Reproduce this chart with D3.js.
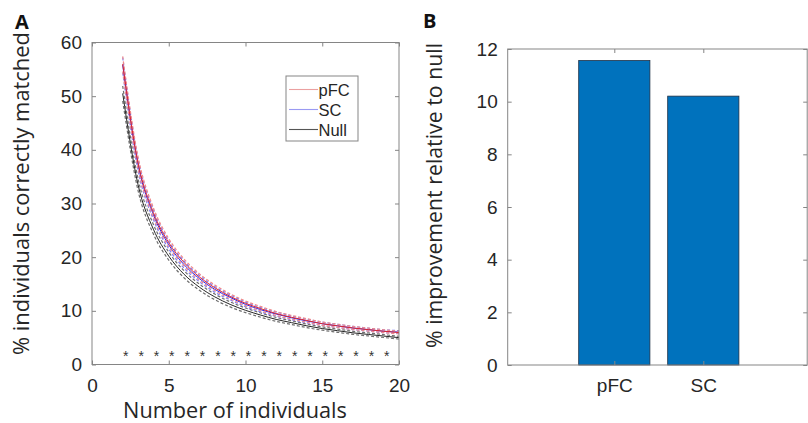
<!DOCTYPE html>
<html>
<head>
<meta charset="utf-8">
<script src="https://cdn.jsdelivr.net/npm/d3@7"></script>
<style>
  html, body { margin: 0; padding: 0; background: #fff; }
  svg { display: block; }
</style>
</head>
<body>
<svg id="chart" width="808" height="423"></svg>
<script>
// ---------- DATA ----------
const nIndividuals = [2,3,4,5,6,7,8,9,10,11,12,13,14,15,16,17,18,19,20];
const pfcMean  = [56.0,37.6,28.3,22.7,19.0,16.3,14.3,12.7,11.4,10.4,9.5,8.8,8.2,7.6,7.2,6.8,6.5,6.2,5.95];
const scMean   = [55.8,37.2,27.9,22.3,18.6,16.0,14.0,12.5,11.2,10.2,9.4,8.7,8.1,7.6,7.2,6.8,6.5,6.2,6.05];
const nullMean = [50.5,33.5,25.2,20.2,16.8,14.4,12.6,11.2,10.1,9.2,8.4,7.8,7.2,6.7,6.3,5.9,5.6,5.3,5.0];
// half-width of the dashed error band around each mean
const pfcBand  = [1.4,1.1,0.9,0.75,0.65,0.58,0.52,0.47,0.43,0.4,0.37,0.35,0.33,0.31,0.3,0.29,0.28,0.27,0.26];
const scBand   = [1.4,1.1,0.9,0.75,0.65,0.58,0.52,0.47,0.43,0.4,0.37,0.35,0.33,0.31,0.3,0.29,0.28,0.27,0.26];
const nullBand = [1.4,1.1,0.9,0.75,0.65,0.58,0.52,0.47,0.43,0.4,0.37,0.35,0.33,0.31,0.3,0.29,0.28,0.27,0.26];
const seriesNames = ["pFC","SC","Null"];
const sigN = [2,3,4,5,6,7,8,9,10,11,12,13,14,15,16,17,18,19];
const xTicksA = [0,5,10,15,20];
const yTicksA = [0,10,20,30,40,50,60];

const barCategories = ["pFC","SC"];
const barValues = [11.56, 10.21];
const yTicksB = [0,2,4,6,8,10,12];

// ---------- STYLE ----------
const tickFont = "'Liberation Sans', Arial, sans-serif";
const labelFont = "'Open Sans', Lato, sans-serif";
const axisColor = "#858585";
const textColor = "#262626";
const seriesColors = {pFC: "#e0262a", SC: "#2828f0", Null: "#262626"};
const bandColors = {pFC: "#f08a8a", SC: "#7f7ff5", Null: "#6e6e6e"};
const legendColors = {pFC: "#eba0a0", SC: "#9a9af2", Null: "#555555"};

const svg = d3.select("#chart");

// fit a label's font size so that it spans a given length
function fitLabel(sel, target, base) {
  sel.style("font-size", base + "px");
  const w = sel.node().getComputedTextLength();
  if (w > 0) sel.style("font-size", (base * target / w).toFixed(2) + "px");
}

// ---------- PANEL A ----------
const A = {left: 92, right: 399, top: 42.5, bottom: 364.5};
const xA = d3.scaleLinear().domain([0,20]).range([A.left, A.right]);
const yA = d3.scaleLinear().domain([0,60]).range([A.bottom, A.top]);

const gA = svg.append("g");

function boxAxes(g, x, y, box, xt, yt, xFmt) {
  const tl = 4;
  g.append("rect").attr("x", box.left).attr("y", box.top)
    .attr("width", box.right - box.left).attr("height", box.bottom - box.top)
    .attr("fill", "none").attr("stroke", axisColor).attr("stroke-width", 1);
  const bx = g.append("g").attr("transform", `translate(0,${box.bottom})`)
    .call(d3.axisBottom(x).tickValues(xt).tickSizeInner(-tl).tickSizeOuter(0).tickPadding(tl + 10).tickFormat(xFmt || d3.format("d")));
  const tx = g.append("g").attr("transform", `translate(0,${box.top})`)
    .call(d3.axisTop(x).tickValues(xt).tickSizeInner(-tl).tickSizeOuter(0).tickFormat(""));
  const ly = g.append("g").attr("transform", `translate(${box.left},0)`)
    .call(d3.axisLeft(y).tickValues(yt).tickSizeInner(-tl).tickSizeOuter(0).tickPadding(tl + 6).tickFormat(d3.format("d")));
  const ry = g.append("g").attr("transform", `translate(${box.right},0)`)
    .call(d3.axisRight(y).tickValues(yt).tickSizeInner(-tl).tickSizeOuter(0).tickFormat(""));
  [bx, tx, ly, ry].forEach(a => {
    a.select(".domain").remove();
    a.selectAll(".tick line").attr("stroke", axisColor);
    a.selectAll(".tick text").attr("fill", textColor)
      .style("font-family", tickFont).style("font-size", "19px");
  });
  return {bx, ly};
}

// curves
const curveSeries = [
  {name: "pFC", mean: pfcMean, band: pfcBand},
  {name: "SC", mean: scMean, band: scBand},
  {name: "Null", mean: nullMean, band: nullBand}
];
const lineGen = d3.line().x(d => xA(d[0])).y(d => yA(d[1])).curve(d3.curveMonotoneX);
const gCurves = gA.append("g");
[curveSeries[2], curveSeries[1], curveSeries[0]].forEach(s => {
  const up = nIndividuals.map((n,i) => [n, s.mean[i] + s.band[i]]);
  const lo = nIndividuals.map((n,i) => [n, s.mean[i] - s.band[i]]);
  const mid = nIndividuals.map((n,i) => [n, s.mean[i]]);
  [up, lo].forEach(pts => {
    gCurves.append("path").attr("d", lineGen(pts)).attr("fill", "none")
      .attr("stroke", bandColors[s.name]).attr("stroke-width", 1.2)
      .attr("stroke-dasharray", "3,2");
  });
  gCurves.append("path").attr("d", lineGen(mid)).attr("fill", "none")
    .attr("stroke", seriesColors[s.name]).attr("stroke-width", 1);
});

boxAxes(gA, xA, yA, A, xTicksA, yTicksA);

// significance asterisks
gA.append("g").selectAll("text").data(sigN).join("text")
  .attr("x", d => xA(d + 0.2)).attr("y", yA(2) + 7.5)
  .attr("text-anchor", "middle")
  .style("font-family", tickFont).style("font-size", "14px")
  .attr("fill", "#333").text("*");

// legend
const leg = gA.append("g");
leg.append("rect").attr("x", 286).attr("y", 76).attr("width", 72).attr("height", 65)
  .attr("fill", "#fff").attr("stroke", axisColor).attr("stroke-width", 1);
seriesNames.forEach((nm, i) => {
  const yy = 89.5 + i * 20;
  leg.append("line").attr("x1", 289).attr("x2", 318).attr("y1", yy).attr("y2", yy)
    .attr("stroke", legendColors[nm]).attr("stroke-width", 1.1);
  leg.append("text").attr("x", 318.5).attr("y", yy + 6)
    .style("font-family", tickFont).style("font-size", "16.5px")
    .attr("fill", textColor).text(nm);
});

// labels A
const ylabA = gA.append("text").attr("transform", "translate(28.5,193.5) rotate(-90)")
  .attr("text-anchor", "middle").style("font-family", labelFont)
  .attr("fill", textColor).text("% individuals correctly matched");
fitLabel(ylabA, 323, 20);
const xlabA = gA.append("text").attr("x", 235).attr("y", 418).attr("text-anchor", "middle")
  .style("font-family", labelFont)
  .attr("fill", textColor).text("Number of individuals");
fitLabel(xlabA, 224, 20);
gA.append("text").attr("x", 15).attr("y", 29)
  .style("font-family", labelFont).style("font-size", "20px").style("font-weight", "bold")
  .attr("fill", "#111").text("A");

// ---------- PANEL B ----------
const B = {left: 507.7, right: 807.2, top: 49, bottom: 365};
const xB = d3.scaleLinear().domain([1,2]).range([614.3, 703.3]);
const yB = d3.scaleLinear().domain([0,12]).range([B.bottom, B.top]);
const gB = svg.append("g");

gB.append("g").selectAll("rect").data(barValues).join("rect")
  .attr("x", (d,i) => xB(i + 1 - 0.4))
  .attr("width", (d,i) => xB(i + 1 + 0.4) - xB(i + 1 - 0.4))
  .attr("y", d => yB(d))
  .attr("height", d => yB(0) - yB(d))
  .attr("fill", "#0072bd").attr("stroke", "#1c2f45").attr("stroke-width", 0.8);

boxAxes(gB, xB, yB, B, [1,2], yTicksB, (d) => barCategories[d - 1]);

const ylabB = gB.append("text").attr("transform", "translate(442,195.5) rotate(-90)")
  .attr("text-anchor", "middle").style("font-family", labelFont)
  .attr("fill", textColor).text("% improvement relative to null");
fitLabel(ylabB, 305, 20);
gB.append("text").attr("x", 423).attr("y", 28)
  .style("font-family", labelFont).style("font-size", "20px").style("font-weight", "bold")
  .attr("fill", "#111").text("B");
</script>
</body>
</html>
